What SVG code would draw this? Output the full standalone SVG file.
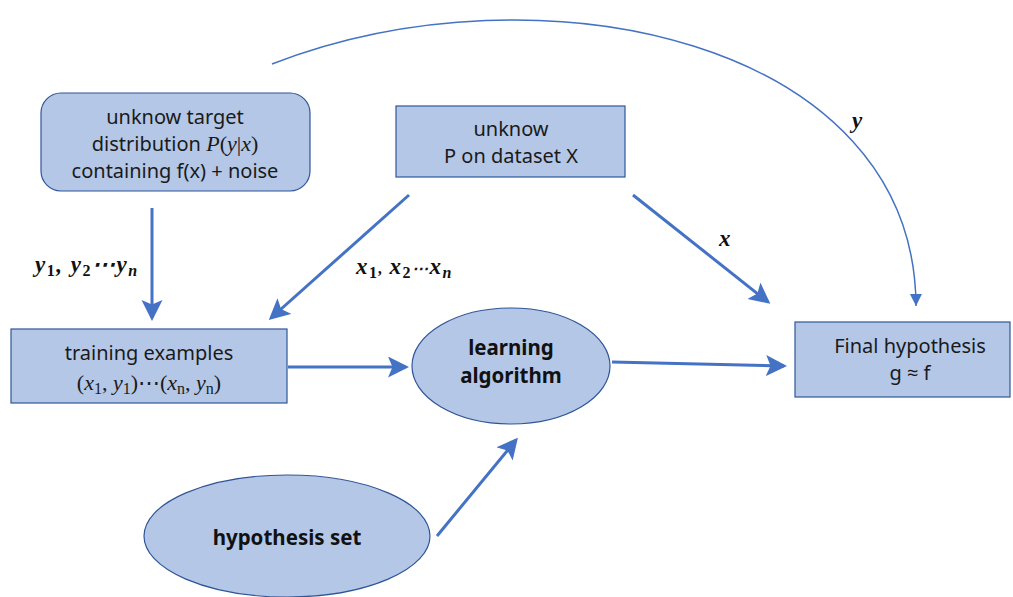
<svg xmlns="http://www.w3.org/2000/svg" width="1013" height="597" viewBox="0 0 1013 597">
<style>
.n{fill:#B4C7E7;stroke:#2F5597;stroke-width:1.2}
.t{font-family:"Noto Sans","Open Sans",sans-serif;font-size:20px;fill:#1a1a1a;text-anchor:middle}
.b{font-family:"Noto Sans","Open Sans",sans-serif;font-size:20.5px;font-weight:bold;fill:#111;text-anchor:middle}
.m{font-family:"Liberation Serif","DejaVu Serif",serif;font-style:italic}
.mb{font-family:"Liberation Serif","DejaVu Serif",serif;font-style:italic;font-weight:bold;font-size:23px;fill:#111}
.c{stroke:#4472C4;stroke-width:3;fill:none}
</style>
<defs>
<marker id="ah" markerWidth="10" markerHeight="10" refX="6" refY="3.5" orient="auto" markerUnits="strokeWidth"><path d="M0,0 L7,3.5 L0,7 L1.5,3.5 Z" fill="#4472C4"/></marker>
<marker id="ah2" markerWidth="12" markerHeight="12" refX="8" refY="4" orient="auto" markerUnits="strokeWidth"><path d="M0,0 L8,4 L0,8 Z" fill="#4472C4"/></marker>
</defs>
<rect width="1013" height="597" fill="#fff"/>
<g id="connectors">
<line class="c" x1="152" y1="208" x2="152" y2="318" marker-end="url(#ah)"/>
<line class="c" x1="409" y1="195" x2="271" y2="318" marker-end="url(#ah)"/>
<line class="c" x1="633" y1="195" x2="768" y2="302" marker-end="url(#ah)"/>
<line class="c" x1="288" y1="367" x2="406" y2="367" marker-end="url(#ah)"/>
<line class="c" x1="612" y1="362" x2="784" y2="366" marker-end="url(#ah)"/>
<line class="c" x1="437" y1="536" x2="516" y2="440" marker-end="url(#ah)"/>
<path d="M272,64 C540,-40 915,40 916,306" fill="none" stroke="#4472C4" stroke-width="1.5" marker-end="url(#ah2)"/>
<text class="mb" x="35" y="272" letter-spacing="1.5">y<tspan font-size="16" dy="4" font-style="normal">1</tspan><tspan dy="-4">, y</tspan><tspan font-size="16" dy="4" font-style="normal">2</tspan><tspan dy="-4">⋯y</tspan><tspan font-size="16" dy="4">n</tspan></text>
<text class="mb" x="356" y="274" letter-spacing="1.5">x<tspan font-size="16" dy="4" font-style="normal">1</tspan><tspan dy="-4" font-size="16">, </tspan><tspan>x</tspan><tspan font-size="16" dy="4" font-style="normal">2</tspan><tspan dy="-4" font-size="16">⋯</tspan><tspan>x</tspan><tspan font-size="16" dy="4">n</tspan></text>
<text class="mb" x="719" y="246">x</text>
<text class="mb" x="852" y="128">y</text>
</g>
<g id="target">
<rect class="n" x="41" y="93" width="269" height="98" rx="20"/>
<text class="t" x="175" y="124">unknow target</text>
<text class="t" x="175" y="151">distribution <tspan class="m" font-size="22">P</tspan><tspan font-family="Liberation Serif,serif" font-size="22">(</tspan><tspan class="m" font-size="22">y</tspan><tspan font-family="Liberation Serif,serif" font-size="22">|</tspan><tspan class="m" font-size="22">x</tspan><tspan font-family="Liberation Serif,serif" font-size="22">)</tspan></text>
<text class="t" x="175" y="178">containing f(x) + noise</text>
</g>
<g id="px">
<rect class="n" x="396" y="106" width="229" height="71"/>
<text class="t" x="511" y="136">unknow</text>
<text class="t" x="511" y="163">P on dataset X</text>
</g>
<g id="training">
<rect class="n" x="11" y="329" width="276" height="74"/>
<text class="t" x="149" y="360">training examples</text>
<text x="149" y="390" text-anchor="middle" font-family="Liberation Serif,serif" font-size="22" fill="#1a1a1a">(<tspan font-style="italic">x</tspan><tspan font-size="16" dy="4">1</tspan><tspan dy="-4">, </tspan><tspan font-style="italic">y</tspan><tspan font-size="16" dy="4">1</tspan><tspan dy="-4">)⋯(</tspan><tspan font-style="italic">x</tspan><tspan font-size="16" dy="4">n</tspan><tspan dy="-4">, </tspan><tspan font-style="italic">y</tspan><tspan font-size="16" dy="4">n</tspan><tspan dy="-4">)</tspan></text>
</g>
<g id="learning">
<ellipse class="n" cx="511" cy="366" rx="99" ry="58"/>
<text class="b" x="511" y="355">learning</text>
<text class="b" x="511" y="383">algorithm</text>
</g>
<g id="final">
<rect class="n" x="795" y="322" width="215" height="75"/>
<text class="t" x="910" y="353">Final hypothesis</text>
<text class="t" x="910" y="380">g ≈ f</text>
</g>
<g id="hypset">
<ellipse class="n" cx="287" cy="536" rx="143" ry="61"/>
<text class="b" x="287" y="545">hypothesis set</text>
</g>
</svg>
